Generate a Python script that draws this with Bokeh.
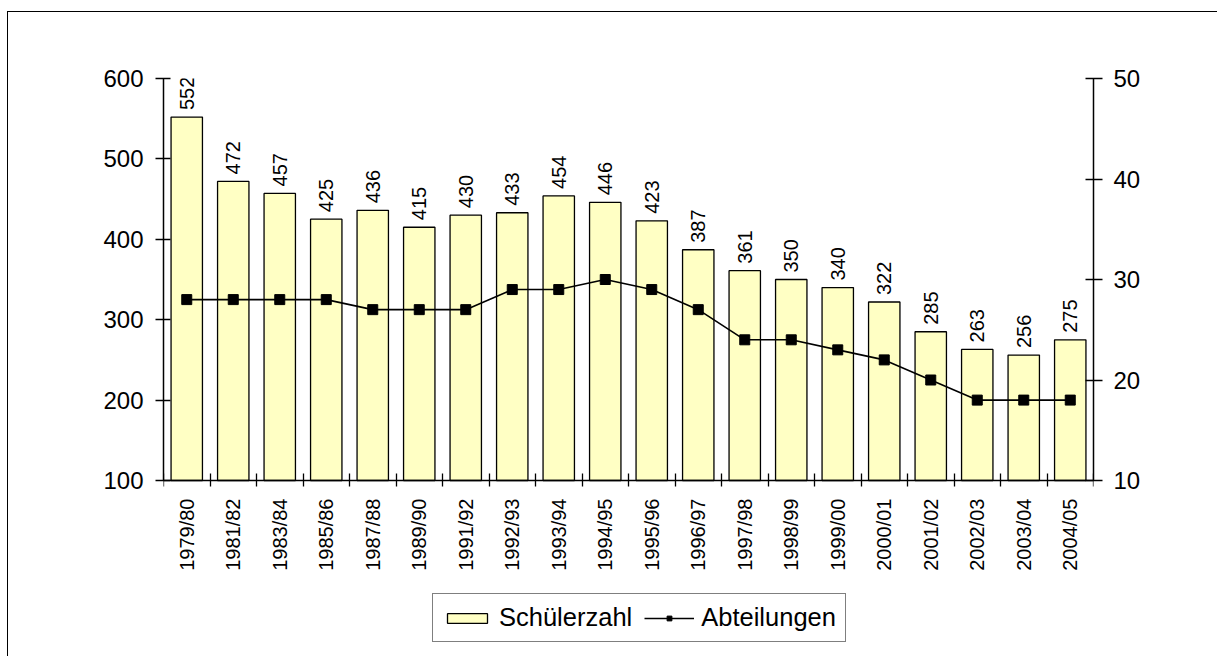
import math
from bokeh.plotting import figure
from bokeh.models import (Range1d, LinearAxis, FixedTicker, LabelSet,
                          ColumnDataSource, Legend, LegendItem)
from bokeh.core.properties import value
from bokeh.embed import file_html
from bokeh.resources import INLINE

years = ["1979/80", "1981/82", "1983/84", "1985/86", "1987/88", "1989/90", "1991/92",
         "1992/93", "1993/94", "1994/95", "1995/96", "1996/97", "1997/98", "1998/99",
         "1999/00", "2000/01", "2001/02", "2002/03", "2003/04", "2004/05"]
schueler = [552, 472, 457, 425, 436, 415, 430, 433, 454, 446, 423, 387, 361, 350, 340,
            322, 285, 263, 256, 275]
abteilungen = [28, 28, 28, 28, 27, 27, 27, 29, 29, 30, 29, 27, 24, 24, 23, 22, 20, 18, 18, 18]
left_ticks = [100, 200, 300, 400, 500, 600]
right_ticks = [10, 20, 30, 40, 50]

n = len(years)
xs = list(range(n))
bounds = [i - 0.5 for i in range(n + 1)]

src = ColumnDataSource(dict(x=xs, n=schueler, nlab=[str(v) for v in schueler], a=abteilungen))

FONT = "Liberation Sans"

# layout: axis part (100..600) is 402 px tall; frame extends further down to hold labels + legend
AXIS_PX = 402.0
FRAME_H = 574
L0, L1 = left_ticks[0], left_ticks[-1]
R0, R1 = right_ticks[0], right_ticks[-1]
px_per_unit = AXIS_PX / (L1 - L0)
y_start = L1 - FRAME_H / px_per_unit
r_start = R0 + (y_start - L0) * (R1 - R0) / (L1 - L0)

p = figure(width=1210, height=66 + FRAME_H + 5,
           x_range=Range1d(-0.5, n - 0.5), y_range=Range1d(y_start, L1),
           output_backend="svg", toolbar_location=None,
           min_border_left=155, min_border_right=125, min_border_top=66, min_border_bottom=5,
           background_fill_color="white", border_fill_color="white",
           styles={"margin-top": "11px", "margin-left": "7px",
                   "border-top": "1px solid black", "border-left": "1px solid black"})
p.outline_line_color = None
p.xgrid.visible = False
p.ygrid.visible = False

p.extra_y_ranges = {"r": Range1d(r_start, R1)}

bars = p.vbar(x="x", top="n", bottom=L0, width=0.675, fill_color="#FFFFC4",
              line_color="black", line_width=1.3, source=src)
line = p.line(x="x", y="a", y_range_name="r", line_color="black", line_width=1.6, source=src)
pts = p.scatter(x="x", y="a", y_range_name="r", marker="square", size=10,
                fill_color="black", line_color="black", source=src)

labels = LabelSet(x="x", y="n", text="nlab", source=src, angle=math.pi / 2,
                  text_align="left", text_baseline="middle", y_offset=7,
                  text_font_size=value("20px"), text_font=value(FONT), text_color="black")
p.add_layout(labels)

# x axis (drawn at y = 100)
xa = p.xaxis[0]
xa.fixed_location = L0
xa.ticker = FixedTicker(ticks=xs, minor_ticks=bounds)
xa.major_label_overrides = {i: y for i, y in zip(xs, years)}
xa.major_tick_line_color = None
xa.minor_tick_line_color = "black"
xa.minor_tick_line_width = 1.3
xa.minor_tick_in = 7
xa.minor_tick_out = 6
xa.major_label_orientation = math.pi / 2
xa.major_label_standoff = 12
xa.major_label_text_font = FONT
xa.major_label_text_font_size = "20px"
xa.major_label_text_color = "black"
xa.axis_line_color = "black"
xa.axis_line_width = 1.5

# left axis
ya = p.yaxis[0]
ya.bounds = (L0, L1)
ya.ticker = FixedTicker(ticks=left_ticks)
ya.minor_tick_line_color = None
ya.major_tick_in = 7
ya.major_tick_out = 8
ya.major_tick_line_width = 1.5
ya.major_tick_line_color = "black"
ya.axis_line_width = 1.5
ya.axis_line_color = "black"
ya.major_label_standoff = 12
ya.major_label_text_font = FONT
ya.major_label_text_font_size = "24px"
ya.major_label_text_color = "black"

# right axis
ra = LinearAxis(y_range_name="r", ticker=FixedTicker(ticks=right_ticks), bounds=(R0, R1))
ra.minor_tick_line_color = None
ra.major_tick_in = 8
ra.major_tick_out = 9
ra.major_tick_line_width = 1.5
ra.major_tick_line_color = "black"
ra.axis_line_width = 1.5
ra.axis_line_color = "black"
ra.major_label_standoff = 11
ra.major_label_text_font = FONT
ra.major_label_text_font_size = "24px"
ra.major_label_text_color = "black"
p.add_layout(ra, "right")

legend = Legend(items=[LegendItem(label="Schülerzahl", renderers=[bars]),
                       LegendItem(label="Abteilungen", renderers=[line, pts])],
                orientation="horizontal", location=(269, 10),
                border_line_color="black", border_line_width=1.2,
                background_fill_color="white", background_fill_alpha=1,
                label_text_font=FONT, label_text_font_size="25.5px", label_text_color="black",
                glyph_width=50, glyph_height=12, label_standoff=7, spacing=12,
                padding=9, margin=0)
p.add_layout(legend, "center")

open("out.html", "w").write(file_html(p, INLINE))
